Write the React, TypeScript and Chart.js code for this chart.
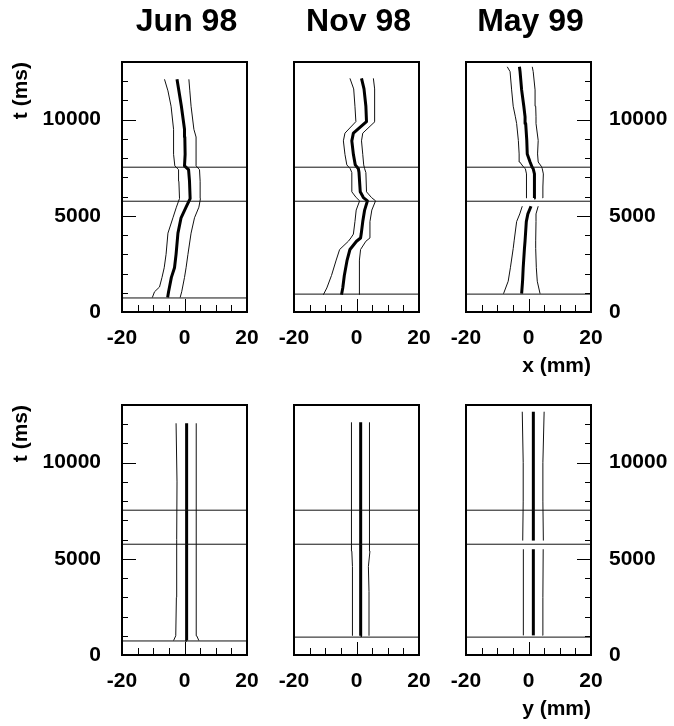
import React, { useEffect, useRef } from 'react';
import { Chart, registerables } from 'chart.js';

Chart.register(...registerables);

const FONT = '"Liberation Sans", Arial, Helvetica, sans-serif';

// ---- labels / ticks ----
const monthTitles = ['Jun 98', 'Nov 98', 'May 99'];
const xTickLabels = [-20, 0, 20];
const yTickLabels = [0, 5000, 10000];
const xMinorTicks = [-15, -10, -5, 0, 5, 10, 15];
const yMinorTicks = [1000, 2000, 3000, 4000, 5000, 6000, 7000, 8000, 9000, 10000, 11000, 12000];
const rowAxisTitles = ['x (mm)', 'y (mm)'];

// ---- horizontal reference lines (ms) ----
const junCuts = [730, 5760, 7530];
const novCuts = [930, 5760, 7530];
const mayCuts = [930, 5760, 7530];

// ---- Jun 98, x ----
const junXT = [750, 1050, 1300, 1800, 2300, 3000, 4100, 4900, 5450, 5900, 6800, 7400, 7600, 8200, 9100, 9500, 10700, 11500, 12100];
const junXMid = [-5.4, -5.1, -4.8, -4.2, -3.2, -2.7, -2.1, -1.1, 0.5, 1.8, 1.6, 1.3, 0.0, 0.2, 0.1, 0.0, -1.0, -1.8, -2.4];
const junXLo = [-10.3, -9.6, -8.0, -7.2, -6.5, -5.9, -5.3, -3.7, -2.6, -1.6, -1.8, -1.9, -3.1, -3.5, -3.5, -3.5, -4.3, -5.3, -6.4];
const junXHi = [-1.4, -0.9, -0.6, 0.0, 0.5, 1.1, 2.1, 3.2, 4.6, 5.1, 5.0, 4.8, 3.7, 3.7, 3.7, 3.0, 2.1, 1.7, 1.4];

// ---- Nov 98, x ----
const novXT = [900, 1250, 1900, 2700, 3250, 3680, 3850, 4050, 4700, 5300, 5780, 5950, 6250, 7250, 7450, 7650, 8200, 8900, 9300, 9900, 10700, 11600, 12150];
const novXMid = [-4.8, -4.4, -3.9, -3.0, -2.1, 0.0, 1.3, 1.5, 2.0, 2.6, 3.5, 2.2, 1.2, 0.8, 0.6, -0.4, -1.0, -1.5, -1.0, 3.2, 3.0, 2.4, 1.6];
const novXLo = [-10.6, -9.5, -8.0, -6.5, -5.4, -2.6, -1.8, -1.0, -0.5, -0.1, 1.0, -0.1, -1.5, -1.5, -2.0, -3.1, -3.7, -4.2, -3.7, -0.2, -0.5, -0.9, -2.1];
const novXHi = [0.9, 0.9, 0.9, 1.0, 1.3, 3.0, 4.3, 4.3, 4.3, 4.9, 6.1, 4.8, 3.2, 3.0, 2.6, 2.3, 2.0, 1.6, 2.0, 5.9, 5.9, 5.7, 5.4];

// ---- May 99, x (two segments) ----
const mayXLowT = [950, 1600, 2300, 3300, 3700, 4700, 5100, 5500];
const mayXLowMid = [-2.2, -1.9, -1.7, -1.3, -1.1, -0.7, -0.2, 0.8];
const mayXLowLo = [-8.0, -6.5, -5.8, -4.9, -4.6, -3.8, -2.8, -2.0];
const mayXLowHi = [3.7, 2.8, 2.5, 2.3, 2.3, 2.4, 2.4, 3.1];
const mayXUpT = [5930, 6500, 7180, 7450, 7550, 7800, 8220, 8920, 9800, 10150, 10700, 11550, 12500, 12750];
const mayXUpMid = [1.8, 1.9, 1.9, 1.5, 1.1, 0.5, -0.4, -0.55, -0.9, -1.1, -1.5, -2.2, -2.7, -2.9];
const mayXUpLo = [-0.8, -0.7, -0.6, -1.0, -1.65, -2.8, -3.0, -3.25, -3.8, -4.2, -4.9, -5.4, -5.9, -6.8];
const mayXUpHi = [4.5, 4.6, 4.75, 4.4, 4.2, 3.1, 2.9, 3.1, 2.4, 2.4, 2.3, 2.1, 1.5, 1.2];

// ---- Jun 98, y ----
const junYT = [750, 1000, 3000, 6000, 9000, 12050];
const junYMid = [0.7, 0.7, 0.7, 0.7, 0.7, 0.6];
const junYLo = [-3.5, -2.8, -2.6, -2.5, -2.4, -2.7];
const junYHi = [4.6, 3.9, 3.8, 3.8, 3.7, 3.7];

// ---- Nov 98, y ----
const novYT = [1000, 3300, 4600, 5400, 5800, 7500, 7900, 12100];
const novYMid = [1.3, 1.3, 1.3, 1.35, 1.35, 1.35, 1.3, 1.4];
const novYLo = [-1.3, -1.3, -1.3, -1.5, -1.55, -1.55, -1.6, -1.75];
const novYHi = [4.0, 4.0, 3.8, 4.3, 4.3, 4.0, 4.0, 4.3];

// ---- May 99, y (two segments) ----
const mayYLowT = [1020, 3000, 5500];
const mayYLowMid = [1.55, 1.55, 1.55];
const mayYLowLo = [-1.65, -1.65, -1.65];
const mayYLowHi = [4.5, 4.6, 4.7];
const mayYUpT = [5950, 8000, 10000, 12650];
const mayYUpMid = [1.55, 1.55, 1.55, 1.55];
const mayYUpLo = [-1.85, -1.7, -1.7, -2.0];
const mayYUpHi = [4.75, 4.6, 4.6, 5.0];

type Seg = { t: number[]; mid: number[]; lo: number[]; hi: number[] };
type PanelDef = { row: number; col: number; segs: Seg[]; cuts: number[] };

const panels: PanelDef[] = [
  { row: 0, col: 0, cuts: junCuts, segs: [{ t: junXT, mid: junXMid, lo: junXLo, hi: junXHi }] },
  { row: 0, col: 1, cuts: novCuts, segs: [{ t: novXT, mid: novXMid, lo: novXLo, hi: novXHi }] },
  {
    row: 0, col: 2, cuts: mayCuts, segs: [
      { t: mayXLowT, mid: mayXLowMid, lo: mayXLowLo, hi: mayXLowHi },
      { t: mayXUpT, mid: mayXUpMid, lo: mayXUpLo, hi: mayXUpHi },
    ],
  },
  { row: 1, col: 0, cuts: junCuts, segs: [{ t: junYT, mid: junYMid, lo: junYLo, hi: junYHi }] },
  { row: 1, col: 1, cuts: novCuts, segs: [{ t: novYT, mid: novYMid, lo: novYLo, hi: novYHi }] },
  {
    row: 1, col: 2, cuts: mayCuts, segs: [
      { t: mayYLowT, mid: mayYLowMid, lo: mayYLowLo, hi: mayYLowHi },
      { t: mayYUpT, mid: mayYUpMid, lo: mayYUpLo, hi: mayYUpHi },
    ],
  },
];

// ---- layout (pixels) ----
const PAGE_W = 674;
const PAGE_H = 726;
const COL_LEFT = [122, 294, 466];
const ROW_TOP = [62, 405];
const PANEL_W = 125;
const PANEL_H = 250;
const Y_W_LEFT = 114;
const Y_W_RIGHT = 80;
const X_H = 70;

const decoPlugin = {
  id: 'panelDeco',
  afterDatasetsDraw(chart: any, _args: any, opts: any) {
    const { ctx, chartArea } = chart;
    const { left, top, right, bottom } = chartArea;
    const xs = chart.scales.x;
    const ys = chart.scales.y;
    ctx.save();
    ctx.strokeStyle = '#000';
    ctx.lineWidth = 1;
    ctx.beginPath();
    xMinorTicks.forEach((v) => {
      const px = Math.round(xs.getPixelForValue(v)) + 0.5;
      const len = v === 0 ? 13 : 7;
      ctx.moveTo(px, bottom);
      ctx.lineTo(px, bottom - len);
    });
    if (opts.side !== 'none') {
      yMinorTicks.forEach((v) => {
        const py = Math.round(ys.getPixelForValue(v)) + 0.5;
        const len = v % 5000 === 0 ? 14 : 6;
        if (opts.side === 'left') {
          ctx.moveTo(left, py);
          ctx.lineTo(left + len, py);
        } else {
          ctx.moveTo(right, py);
          ctx.lineTo(right - len, py);
        }
      });
    }
    ctx.stroke();
    ctx.lineWidth = 2;
    ctx.strokeRect(left, top, right - left, bottom - top);
    if (opts.title) {
      ctx.fillStyle = '#000';
      ctx.font = `bold 32px ${FONT}`;
      ctx.textAlign = 'center';
      ctx.textBaseline = 'alphabetic';
      ctx.fillText(opts.title, (left + right) / 2 + 2, 31);
    }
    ctx.restore();
  },
};

function toPoints(t: number[], x: number[]) {
  return t.map((tv, i) => ({ x: x[i], y: tv }));
}

function Panel({ def }: { def: PanelDef }) {
  const ref = useRef<HTMLCanvasElement | null>(null);
  useEffect(() => {
    const canvas = ref.current;
    if (!canvas) return;
    const { row, col } = def;
    const side = col === 0 ? 'left' : col === 2 ? 'right' : 'none';
    const left = COL_LEFT[col];
    const right = left + PANEL_W;
    const top = ROW_TOP[row];
    const bottom = top + PANEL_H;
    const yW = side === 'left' ? Y_W_LEFT : side === 'right' ? Y_W_RIGHT : 0;
    const padding = {
      left: side === 'left' ? left - yW : left,
      right: side === 'right' ? PAGE_W - right - yW : PAGE_W - right,
      top,
      bottom: PAGE_H - bottom - X_H,
    };

    const datasets: any[] = [];
    def.cuts.forEach((c) => {
      datasets.push({
        data: [{ x: -20, y: c }, { x: 20, y: c }],
        borderColor: '#111',
        borderWidth: 1,
      });
    });
    def.segs.forEach((s) => {
      datasets.push({ data: toPoints(s.t, s.lo), borderColor: '#111', borderWidth: 1 });
      datasets.push({ data: toPoints(s.t, s.hi), borderColor: '#111', borderWidth: 1 });
      datasets.push({ data: toPoints(s.t, s.mid), borderColor: '#000', borderWidth: 3 });
    });
    datasets.forEach((d) => {
      d.showLine = true;
      d.pointRadius = 0;
      d.pointHoverRadius = 0;
      d.tension = 0;
      d.fill = false;
      d.borderJoinStyle = 'round';
    });

    const tickFont = { family: FONT, size: 21, weight: 'bold' as const };

    const chart = new Chart(canvas, {
      type: 'scatter',
      data: { datasets },
      plugins: [decoPlugin],
      options: {
        responsive: false,
        animation: false,
        devicePixelRatio: 1,
        events: [],
        layout: { padding },
        plugins: {
          legend: { display: false },
          tooltip: { enabled: false },
          panelDeco: { side, title: row === 0 ? monthTitles[col] : '' },
        } as any,
        scales: {
          x: {
            type: 'linear',
            position: 'bottom',
            min: -20,
            max: 20,
            afterBuildTicks: (s: any) => {
              s.ticks = xTickLabels.map((v) => ({ value: v }));
            },
            afterFit: (s: any) => {
              s.height = X_H;
            },
            grid: { display: false, drawTicks: false },
            border: { display: false },
            ticks: {
              autoSkip: false,
              maxRotation: 0,
              minRotation: 0,
              padding: 14,
              color: '#000',
              font: tickFont,
              callback: (v: any) => String(v),
            },
            title: {
              display: col === 2,
              text: rowAxisTitles[row],
              align: 'end',
              color: '#000',
              font: { family: FONT, size: 21, weight: 'bold' },
              padding: { top: 0, bottom: 3 },
            },
          },
          y: {
            type: 'linear',
            position: side === 'right' ? 'right' : 'left',
            display: side !== 'none',
            min: 0,
            max: 13000,
            afterBuildTicks: (s: any) => {
              s.ticks = yTickLabels.map((v) => ({ value: v }));
            },
            afterFit: (s: any) => {
              s.width = yW;
            },
            grid: { display: false, drawTicks: false },
            border: { display: false },
            ticks: {
              autoSkip: false,
              padding: side === 'left' ? 21 : 18,
              color: '#000',
              font: tickFont,
              callback: (v: any) => String(v),
            },
            title: {
              display: side === 'left',
              text: 't (ms)',
              align: 'end',
              color: '#000',
              font: { family: FONT, size: 21, weight: 'bold' },
              padding: { top: 1, bottom: 0 },
            },
          },
        },
      } as any,
    });
    return () => chart.destroy();
  }, [def]);

  return (
    <canvas
      ref={ref}
      width={PAGE_W}
      height={PAGE_H}
      style={{ position: 'absolute', left: 0, top: 0, width: PAGE_W, height: PAGE_H }}
    />
  );
}

export default function App() {
  return (
    <div style={{ position: 'absolute', left: 0, top: 0, width: PAGE_W, height: PAGE_H, background: '#fff' }}>
      {panels.map((p, i) => (
        <Panel key={i} def={p} />
      ))}
    </div>
  );
}
